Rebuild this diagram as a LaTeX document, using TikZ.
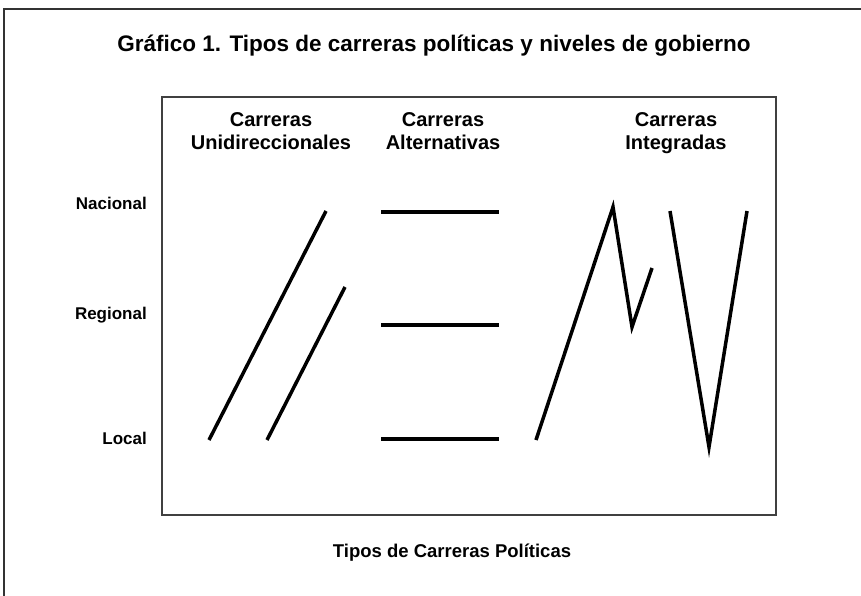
\documentclass[tikz,border=0pt]{standalone}
\usepackage{fontspec}
\setmainfont{Liberation Sans}
\begin{document}
\begin{tikzpicture}[x=1pt,y=-1pt,
  frame/.style={draw=black!80,line width=2pt},
  career/.style={draw=black,line width=3.5pt},
  title/.style={font=\bfseries\fontsize{22.5}{26}\selectfont},
  catlabel/.style={font=\bfseries\fontsize{20}{23}\selectfont,align=center,inner sep=0pt,anchor=north},
  rowlabel/.style={font=\bfseries\fontsize{17}{20}\selectfont,anchor=east,inner sep=0pt},
  axislabel/.style={font=\bfseries\fontsize{18.5}{22}\selectfont,inner sep=0pt}]
\useasboundingbox (0,0) rectangle (861,596);
% outer frame (cropped)
\coordinate (fTL) at (4,9);
\coordinate (fTR) at (861,9);
\coordinate (fBL) at (4,596);
\draw[frame] (fBL) -- (fTL) -- (fTR);
% inner box
\node[frame,draw=black!75,minimum width=614pt,minimum height=418pt,inner sep=0pt] (box) at (469,306) {};
\node[title] (ttl) at (434,46) {Gráfico 1. Tipos de carreras políticas y niveles de gobierno};
\node[catlabel] (c1) at (271,112) {Carreras\\Unidireccionales};
\node[catlabel] (c2) at (443,112) {Carreras\\Alternativas};
\node[catlabel] (c3) at (676,112) {Carreras\\Integradas};
\node[rowlabel] (nac) at (147,203) {Nacional};
\node[rowlabel] (reg) at (147,315) {Regional};
\node[rowlabel] (loc) at (147,438) {Local};
\node[axislabel] (ax) at (452,553) {Tipos de Carreras Políticas};
% unidirectional
\coordinate (u1a) at (209,440); \coordinate (u1b) at (326,211);
\coordinate (u2a) at (267,440); \coordinate (u2b) at (345,287);
\draw[career] (u1a) -- (u1b);
\draw[career] (u2a) -- (u2b);
% alternative
\coordinate (a1a) at (381,212); \coordinate (a1b) at (499,212);
\coordinate (a2a) at (381,325); \coordinate (a2b) at (499,325);
\coordinate (a3a) at (381,439); \coordinate (a3b) at (499,439);
\draw[career] (a1a) -- (a1b);
\draw[career] (a2a) -- (a2b);
\draw[career] (a3a) -- (a3b);
% integrated
\coordinate (i1) at (536,440); \coordinate (i2) at (613,207);
\coordinate (i3) at (632,327); \coordinate (i4) at (652,268);
\draw[career,line join=miter] (i1) -- (i2) -- (i3) -- (i4);
\coordinate (v1) at (670,211); \coordinate (v2) at (709,447); \coordinate (v3) at (747,211);
\draw[career,line join=miter] (v1) -- (v2) -- (v3);
\end{tikzpicture}
\end{document}
